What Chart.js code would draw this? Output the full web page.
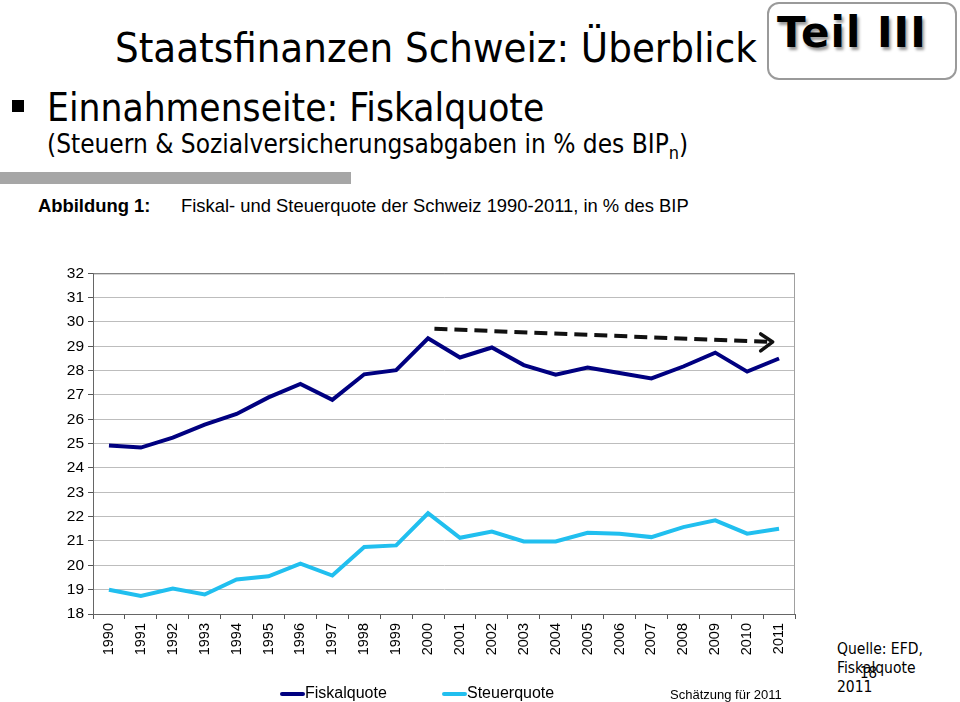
<!DOCTYPE html>
<html>
<head>
<meta charset="utf-8">
<script src="https://cdn.jsdelivr.net/npm/chart.js@4.4.1/dist/chart.umd.min.js"></script>
<style>
  body { margin: 0; width: 960px; height: 702px; overflow: hidden; background: #fff; position: relative; font-family: "Liberation Sans", Arial, sans-serif; }
  .abs { position: absolute; white-space: nowrap; }
  .tah { font-family: "DejaVu Sans Condensed", "DejaVu Sans", Tahoma, sans-serif; }
  #title { left: 115px; top: 23px; font-size: 41.5px; color: #000; }
  #bullet { left: 12px; top: 100px; width: 12px; height: 12px; background: #000; }
  #sub1 { left: 47px; top: 85px; font-size: 38.5px; color: #000; }
  #sub2 { left: 47px; top: 129px; font-size: 26px; color: #000; }
  #sub2 sub { font-size: 18px; }
  #graybar { left: 0; top: 172px; width: 351px; height: 12px; background: #a6a6a6; }
  #teil { left: 767px; top: 2px; width: 190px; height: 78px; border: 2px solid #9a9a9a; border-radius: 12px; box-sizing: border-box; }
  #teil span { position: absolute; left: 8px; top: 4px; font-family: "DejaVu Sans", Verdana, sans-serif; font-weight: bold; font-size: 42px; letter-spacing: 1px; color: #000; text-shadow: 2px 3px 3px #9a9a9a; }
  #abb { left: 38px; top: 195px; font-family: "Liberation Sans Narrow", "Liberation Sans", Arial, sans-serif; font-size: 18.4px; color: #000; }
  #abb b { display: inline-block; width: 143px; }
  #wrap { left: 0; top: 260px; width: 830px; height: 442px; }
  .leg { top: 684px; font-size: 16px; color: #000; }
  .sw { position: absolute; top: 692px; width: 25px; height: 4px; border-radius: 2px; }
  #quelle { left: 837px; top: 640px; font-size: 15.5px; line-height: 19px; color: #000; }
  #page { left: 860px; top: 664px; font-size: 15px; color: #000; }
</style>
</head>
<body>
<div class="abs tah" id="title">Staatsfinanzen Schweiz: Überblick</div>
<div class="abs" id="bullet"></div>
<div class="abs tah" id="sub1">Einnahmenseite: Fiskalquote</div>
<div class="abs tah" id="sub2">(Steuern &amp; Sozialversicherungsabgaben in % des BIP<sub>n</sub>)</div>
<div class="abs" id="graybar"></div>
<div class="abs" id="teil"><span>Teil III</span></div>
<div class="abs" id="abb"><b>Abbildung 1:</b>Fiskal- und Steuerquote der Schweiz 1990-2011, in % des BIP</div>
<div class="abs" id="wrap"><canvas id="chart"></canvas></div>
<div class="sw" style="left:280px;background:#000080"></div>
<div class="abs leg" style="left:305px">Fiskalquote</div>
<div class="sw" style="left:442px;background:#21bfef"></div>
<div class="abs leg" style="left:467px">Steuerquote</div>
<div class="abs leg" style="left:670px;font-size:13px;top:687px">Schätzung für 2011</div>
<div class="abs tah" id="quelle">Quelle: EFD,<br>Fiskalquote<br>2011</div>
<div class="abs tah" id="page">18</div>
<script>
let years = ["1990","1991","1992","1993","1994","1995","1996","1997","1998","1999","2000",
    "2001","2002","2003","2004","2005","2006","2007","2008","2009","2010","2011"]
let fiskalquote = [24.92, 24.84, 25.25, 25.78, 26.22, 26.9, 27.45, 26.8, 27.85, 28.02, 29.33,
    28.54, 28.95, 28.23, 27.83, 28.13, 27.9, 27.68, 28.17, 28.74, 27.96, 28.5]
let steuerquote = [19.0, 18.74, 19.05, 18.8, 19.42, 19.55, 20.07, 19.58, 20.75, 20.82, 22.14,
    21.13, 21.39, 20.98, 20.98, 21.34, 21.3, 21.16, 21.57, 21.85, 21.3, 21.5]
// trend arrow: [category index, value]
let arrowStart = [10.2, 29.72]
let arrowEnd = [20.8, 29.18]

let frameAndArrow = {
    id: "frameAndArrow",
    afterDatasetsDraw(chart) {
        let ctx = chart.ctx
        let a = chart.chartArea
        let x = chart.scales.x
        let y = chart.scales.y
        ctx.save()
        ctx.lineWidth = 1
        ctx.strokeStyle = "#707070"
        ctx.beginPath()
        ctx.moveTo(a.left, a.top + 0.5)
        ctx.lineTo(a.right, a.top + 0.5)
        ctx.stroke()
        ctx.strokeStyle = "#a0a0a0"
        ctx.beginPath()
        ctx.moveTo(a.right - 0.5, a.top)
        ctx.lineTo(a.right - 0.5, a.bottom)
        ctx.stroke()
        let x1 = x.getPixelForValue(arrowStart[0]), y1 = y.getPixelForValue(arrowStart[1])
        let x2 = x.getPixelForValue(arrowEnd[0]), y2 = y.getPixelForValue(arrowEnd[1])
        ctx.strokeStyle = "#111"
        ctx.lineWidth = 4
        ctx.setLineDash([13, 7])
        ctx.beginPath()
        ctx.moveTo(x1, y1)
        ctx.lineTo(x2 - 4, y2)
        ctx.stroke()
        ctx.setLineDash([])
        ctx.lineWidth = 3.5
        ctx.lineCap = "round"
        ctx.lineJoin = "round"
        ctx.beginPath()
        ctx.moveTo(x2 - 12, y2 - 8)
        ctx.lineTo(x2, y2)
        ctx.lineTo(x2 - 12, y2 + 9)
        ctx.stroke()
        ctx.restore()
    }
}

new Chart(document.getElementById("chart"), {
    type: "line",
    data: {
        labels: years,
        datasets: [{
            label: "Fiskalquote",
            data: fiskalquote,
            borderColor: "#000080",
            borderWidth: 4,
            pointRadius: 0,
            tension: 0
        }, {
            label: "Steuerquote",
            data: steuerquote,
            borderColor: "#21bfef",
            borderWidth: 4,
            pointRadius: 0,
            tension: 0
        }]
    },
    options: {
        responsive: true,
        maintainAspectRatio: false,
        animation: false,
        layout: { padding: { left: 63, right: 35, top: 12, bottom: 38 } },
        plugins: { legend: { display: false }, tooltip: { enabled: false } },
        scales: {
            x: {
                offset: true,
                afterFit: s => { s.height = 50 },
                grid: { offset: true, drawOnChartArea: false, tickLength: 5, color: "#555" },
                border: { color: "#666", width: 1 },
                ticks: { minRotation: 90, maxRotation: 90, padding: 4, color: "#000",
                    font: { family: "Liberation Sans", size: 14.5 } }
            },
            y: {
                min: 18,
                max: 32,
                afterFit: s => { s.width = 30 },
                grid: { color: "#bdbdbd", tickColor: "#555", tickLength: 5, lineWidth: 1 },
                border: { color: "#666", width: 1 },
                ticks: { stepSize: 1, padding: 4, color: "#000",
                    font: { family: "Liberation Sans", size: 15.5 } }
            }
        }
    },
    plugins: [frameAndArrow]
})
</script>
</body>
</html>
